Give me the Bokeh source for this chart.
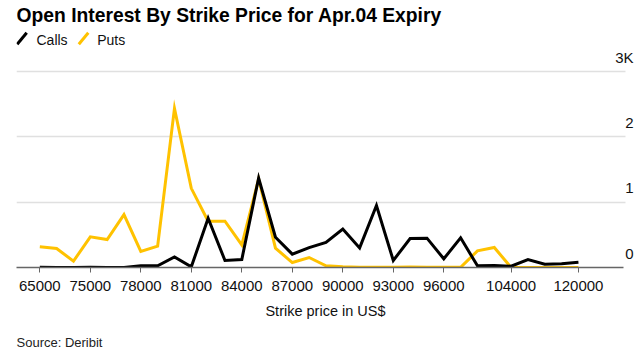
from bokeh.plotting import figure
from bokeh.models import Range1d, FixedTicker, Label, Arrow, Grid, ColumnDataSource, Title
from bokeh.embed import file_html
from bokeh.resources import INLINE

strikes = [65000, 70000, 72000, 75000, 76000, 77000, 78000, 79000, 80000, 81000,
           82000, 83000, 84000, 85000, 86000, 87000, 88000, 89000, 90000, 91000,
           92000, 93000, 94000, 95000, 96000, 97000, 98000, 100000, 104000, 105000,
           110000, 115000, 120000]
calls = [5, 0, 0, 3, 0, 0, 25, 25, 163, 10, 754, 107, 122, 1370, 464, 204, 305, 385,
         590, 300, 950, 107, 444, 449, 133, 454, 26, 30, 20, 122, 50, 56, 80]
puts = [316, 290, 97, 469, 428, 810, 245, 326, 2435, 1212, 708, 708, 346, 1355, 295, 76,
        153, 25, 10, 5, 3, 3, 8, 3, 2, 2, 255, 306, 0, 0, 0, 0, 0]
tick_strikes = [65000, 75000, 78000, 81000, 84000, 87000, 90000, 93000, 96000, 104000, 120000]
y_ticks = [0, 1000, 2000, 3000]
y_tick_labels = ["0", "1", "2", "3K"]

FONT = "Liberation Sans"
GOLD = "#ffc200"
TXT = "#111111"

idx = list(range(len(strikes)))
src = ColumnDataSource(dict(i=idx, strike=strikes, calls=calls, puts=puts))

# frame spans from the top of the canvas down to the zero line; texts above live inside it
p = figure(width=636, height=362, output_backend="svg", toolbar_location=None,
           title=None, x_range=Range1d(-1.385, 35.33), y_range=Range1d(0, 4087),
           min_border_left=16, min_border_right=2, min_border_top=0, min_border_bottom=95,
           y_axis_location=None)
p.outline_line_color = None
p.background_fill_color = None
p.border_fill_color = "white"
p.center = [r for r in p.center if not isinstance(r, Grid)]

p.add_layout(Grid(dimension=1, ticker=FixedTicker(ticks=y_ticks), cross_bounds=(-1.385, 34.79),
                  grid_line_color="#e0e0e0", grid_line_width=1.3))

p.line("i", "puts", source=src, line_color=GOLD, line_width=3, line_join="miter")
p.line("i", "calls", source=src, line_color="#000000", line_width=3, line_join="miter")

tick_idx = [strikes.index(s) for s in tick_strikes]
ax = p.xaxis[0]
ax.ticker = FixedTicker(ticks=tick_idx)
ax.bounds = (-1.385, 34.67)
ax.major_label_overrides = {i: str(s) for i, s in zip(tick_idx, tick_strikes)}
ax.minor_tick_line_color = None
ax.axis_line_color = "#666666"
ax.axis_line_width = 1.3
ax.major_tick_line_color = "#666666"
ax.major_tick_in = 0
ax.major_tick_out = 5
ax.major_label_standoff = 8
ax.major_label_text_font = FONT
ax.major_label_text_font_size = "15px"
ax.major_label_text_color = TXT
ax.axis_label = "Strike price in US$"
ax.axis_label_text_font = FONT
ax.axis_label_text_font_size = "14.5px"
ax.axis_label_text_font_style = "normal"
ax.axis_label_text_color = TXT
ax.axis_label_standoff = 9

for v, t in zip(y_ticks, y_tick_labels):
    p.add_layout(Label(x=617, y=v, x_units="screen", y_units="data", text=t,
                       text_align="right", text_baseline="alphabetic", y_offset=14,
                       text_font=FONT, text_font_size="15px", text_color=TXT))

p.add_layout(Label(x=0, y=252.3, x_units="screen", y_units="screen",
                   text="Open Interest By Strike Price for Apr.04 Expiry",
                   text_align="left", text_baseline="alphabetic", text_font=FONT,
                   text_font_size="19.3px", text_font_style="bold", text_color="#000000"))

for x0, color, name, tx in [(0.7, "#000000", "Calls", 20), (62.3, GOLD, "Puts", 80.7)]:
    p.add_layout(Arrow(x_start=x0, y_start=223.3, x_end=x0 + 9.5, y_end=234.7,
                       start_units="screen", end_units="screen", end=None,
                       line_color=color, line_width=3))
    p.add_layout(Label(x=tx, y=227.3, x_units="screen", y_units="screen", text=name,
                       text_align="left", text_baseline="alphabetic", text_font=FONT,
                       text_font_size="14px", text_color=TXT))

p.add_layout(Title(text="Source: Deribit", align="left", standoff=23, text_font=FONT,
                   text_font_size="13px", text_font_style="normal", text_color="#222222"),
             "below")

open("out.html", "w").write(file_html(p, INLINE))
